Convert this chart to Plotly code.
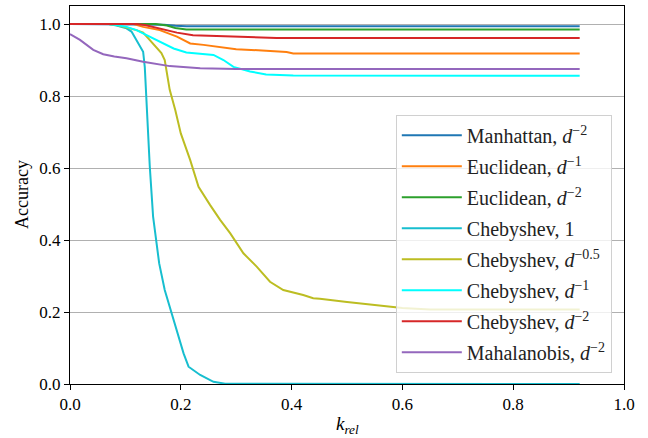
import plotly.graph_objects as go

# ---- data ----
manhattan_k = [0, 0.15, 0.17, 0.19, 0.21, 0.92]
manhattan_acc = [1.0, 1.0, 0.998, 0.995, 0.994, 0.994]

euclid1_k = [0, 0.115, 0.132, 0.162, 0.193, 0.217, 0.241, 0.271, 0.30, 0.354, 0.391, 0.403, 0.92]
euclid1_acc = [1.0, 1.0, 0.992, 0.983, 0.965, 0.946, 0.942, 0.935, 0.93, 0.926, 0.922, 0.918, 0.918]

euclid2_k = [0, 0.155, 0.175, 0.19, 0.21, 0.92]
euclid2_acc = [1.0, 1.0, 0.996, 0.989, 0.985, 0.985]

cheb1_k = [0, 0.07, 0.084, 0.102, 0.111, 0.123, 0.132, 0.135, 0.138, 0.144, 0.15, 0.156,
           0.161, 0.171, 0.184, 0.196, 0.205, 0.214, 0.235, 0.259, 0.28, 0.92]
cheb1_acc = [1.0, 1.0, 0.996, 0.988, 0.979, 0.946, 0.923, 0.88, 0.789, 0.604, 0.465, 0.4,
             0.335, 0.261, 0.196, 0.131, 0.085, 0.048, 0.025, 0.006, 0.001, 0.0]

cheb05_k = [0, 0.07, 0.084, 0.102, 0.12, 0.132, 0.144, 0.156, 0.165, 0.171, 0.18, 0.19, 0.2,
            0.217, 0.232, 0.253, 0.271, 0.289, 0.313, 0.337, 0.361, 0.385, 0.409, 0.421,
            0.439, 0.451, 0.5, 0.55, 0.6, 0.65, 0.92]
cheb05_acc = [1.0, 1.0, 0.997, 0.99, 0.983, 0.976, 0.956, 0.937, 0.919, 0.9, 0.817, 0.761, 0.696,
              0.622, 0.548, 0.497, 0.456, 0.419, 0.363, 0.326, 0.284, 0.261, 0.252, 0.247,
              0.238, 0.237, 0.228, 0.219, 0.211, 0.207, 0.207]

chebd1_k = [0, 0.07, 0.084, 0.102, 0.12, 0.144, 0.168, 0.187, 0.21, 0.24, 0.259, 0.277, 0.295,
            0.325, 0.354, 0.403, 0.92]
chebd1_acc = [1.0, 1.0, 0.997, 0.992, 0.983, 0.965, 0.946, 0.932, 0.921, 0.916, 0.914, 0.9, 0.881,
              0.868, 0.86, 0.857, 0.856]

chebd2_k = [0, 0.12, 0.135, 0.162, 0.193, 0.222, 0.282, 0.373, 0.92]
chebd2_acc = [1.0, 1.0, 0.997, 0.988, 0.976, 0.969, 0.965, 0.961, 0.961]

mahal_k = [0, 0.018, 0.042, 0.06, 0.08, 0.102, 0.132, 0.18, 0.235, 0.3, 0.92]
mahal_acc = [0.972, 0.956, 0.928, 0.916, 0.91, 0.905, 0.895, 0.883, 0.877, 0.875, 0.875]

tick_vals = [0, 0.2, 0.4, 0.6, 0.8, 1.0]
tick_text = ["0.0", "0.2", "0.4", "0.6", "0.8", "1.0"]

series = [
    ("Manhattan, <i>d</i><sup>−2</sup>", manhattan_k, manhattan_acc, "#1f77b4"),
    ("Euclidean, <i>d</i><sup>−1</sup>", euclid1_k, euclid1_acc, "#ff7f0e"),
    ("Euclidean, <i>d</i><sup>−2</sup>", euclid2_k, euclid2_acc, "#2ca02c"),
    ("Chebyshev, 1", cheb1_k, cheb1_acc, "#17becf"),
    ("Chebyshev, <i>d</i><sup>−0.5</sup>", cheb05_k, cheb05_acc, "#bcbd22"),
    ("Chebyshev, <i>d</i><sup>−1</sup>", chebd1_k, chebd1_acc, "#00ffff"),
    ("Chebyshev, <i>d</i><sup>−2</sup>", chebd2_k, chebd2_acc, "#d62728"),
    ("Mahalanobis, <i>d</i><sup>−2</sup>", mahal_k, mahal_acc, "#9467bd"),
]

FONT = "Liberation Serif"

fig = go.Figure()
for i, (name, kx, acc, col) in enumerate(series):
    fig.add_trace(go.Scatter(x=kx, y=acc, mode="lines", name=name,
                             legendgroup=f"g{i}",
                             line=dict(color=col, width=2)))

fig.update_layout(
    width=648, height=438,
    margin=dict(l=70, r=24, t=6, b=54, autoexpand=False),
    plot_bgcolor="white", paper_bgcolor="white",
    font=dict(family=FONT, size=17, color="black"),
    showlegend=True,
    legend=dict(x=0.978, y=0.03, xanchor="right", yanchor="bottom",
                bgcolor="rgba(255,255,255,0.8)", bordercolor="#d0d0d0", borderwidth=1,
                font=dict(family=FONT, size=20, color="#222"),
                itemwidth=60,
                traceorder="grouped", tracegroupgap=2),
    annotations=[
        dict(text="<i>k</i><sub><i>rel</i></sub>", xref="paper", yref="paper",
             x=0.5, y=0, yshift=-41, showarrow=False, xanchor="center", yanchor="middle",
             font=dict(size=19)),
        dict(text="Accuracy", xref="paper", yref="paper", x=0, y=0.5, xshift=-48,
             showarrow=False, textangle=-90, xanchor="center", yanchor="middle",
             font=dict(size=18)),
    ],
)
fig.update_xaxes(range=[0, 1.0], tickvals=tick_vals, ticktext=tick_text,
                 ticks="outside", ticklen=5, tickcolor="black", automargin=False,
                 showline=True, linecolor="black", linewidth=1, mirror=True,
                 showgrid=False, zeroline=False)
fig.update_yaxes(range=[0, 1.05], tickvals=tick_vals, ticktext=tick_text,
                 ticks="outside", ticklen=5, tickcolor="black", automargin=False,
                 showline=True, linecolor="black", linewidth=1, mirror=True,
                 showgrid=True, gridcolor="#b0b0b0", gridwidth=1, zeroline=False)

fig.write_html("out.html", config={"displayModeBar": False},
               post_script="document.body.style.margin='0';document.body.style.overflow='hidden';")
